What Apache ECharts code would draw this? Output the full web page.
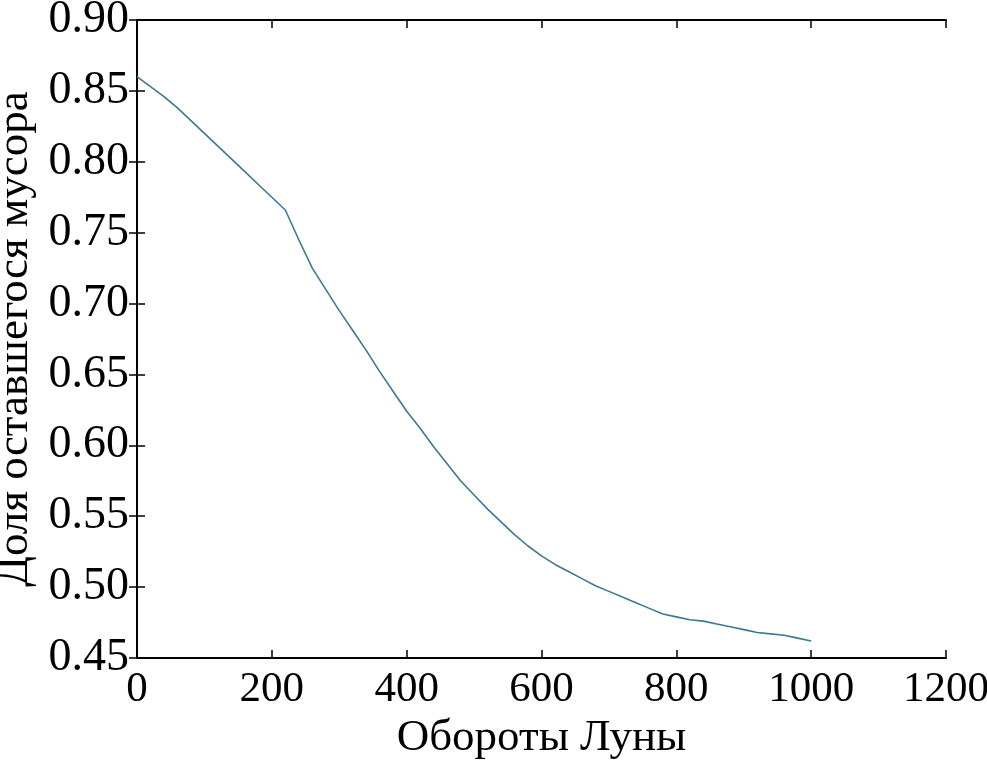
<!DOCTYPE html>
<html><head><meta charset="utf-8">
<script src="https://cdn.jsdelivr.net/npm/echarts@6/dist/echarts.min.js"></script>
<style>html,body{margin:0;padding:0;background:#fff}#c{width:987px;height:763px}</style>
</head><body><div id="c"></div>
<script>
const xValues = [0,20,40,60,80,100,120,140,160,180,200,220,240,260,280,300,320,340,360,380,400,420,440,460,480,500,520,540,560,580,600,620,640,660,680,700,720,740,760,780,800,820,840,860,880,900,920,940,960,980,1000];
const yValues = [0.860,0.853,0.846,0.838,0.829,0.820,0.811,0.802,0.793,0.784,0.775,0.766,0.745,0.725,0.710,0.695,0.681,0.667,0.652,0.638,0.624,0.612,0.599,0.587,0.575,0.565,0.555,0.546,0.537,0.529,0.522,0.516,0.511,0.506,0.501,0.497,0.493,0.489,0.485,0.481,0.479,0.477,0.476,0.474,0.472,0.470,0.468,0.467,0.466,0.464,0.462];
const xTitle = 'Обороты Луны';
const yTitle = 'Доля оставшегося мусора';

const font = 'Liberation Serif';
const fsY = 46;
const fsX = 43;
const fsTitle = 45;
const axisCommon = {
  axisLine: {show: true, lineStyle: {color: '#000', width: 2}},
  axisTick: {show: true, inside: true, length: 8, lineStyle: {color: '#000', width: 1.5}},
  splitLine: {show: false}
};
const chart = echarts.init(document.getElementById('c'));
chart.setOption({
  animation: false,
  backgroundColor: '#fff',
  grid: {left: 137, top: 20, width: 809, height: 638, containLabel: false, outerBoundsMode: 'none'},
  xAxis: [
    Object.assign({type: 'value', min: 0, max: 1200, interval: 200, position: 'bottom',
      name: xTitle, nameLocation: 'middle', nameGap: 58,
      nameTextStyle: {fontFamily: font, fontSize: fsTitle, color: '#000'},
      axisLabel: {fontFamily: font, fontSize: fsX, color: '#000', margin: 10,
        formatter: v => String(v)}}, axisCommon),
    Object.assign({type: 'value', min: 0, max: 1200, interval: 200, position: 'top',
      axisLabel: {show: false}}, axisCommon)
  ],
  yAxis: [
    Object.assign({type: 'value', min: 0.45, max: 0.90, interval: 0.05, position: 'left',
      name: yTitle, nameLocation: 'middle', nameGap: 90, nameRotate: 90,
      nameTextStyle: {fontFamily: font, fontSize: fsTitle, color: '#000'},
      axisLabel: {fontFamily: font, fontSize: fsY, color: '#000', margin: 8,
        formatter: v => v.toFixed(2)}}, axisCommon),
    Object.assign({type: 'value', min: 0.45, max: 0.90, interval: 0.05, position: 'right',
      axisLabel: {show: false}}, axisCommon)
  ],
  series: [{
    type: 'line',
    data: xValues.map((x, i) => [x, yValues[i]]),
    showSymbol: false,
    lineStyle: {color: '#3b7a90', width: 1.6},
    itemStyle: {color: '#3b7a90'}
  }]
});
</script></body></html>
